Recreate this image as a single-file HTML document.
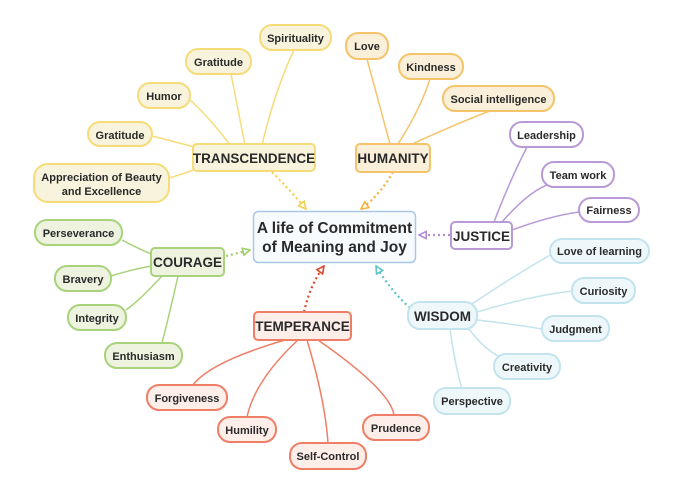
<!DOCTYPE html>
<html><head><meta charset="utf-8"><style>
html,body{margin:0;padding:0;background:#fff;}
svg{display:block;}
text{font-family:"Liberation Sans",sans-serif;font-weight:bold;fill:#2a2a2a;}
</style></head><body>
<svg width="688" height="479" viewBox="0 0 688 479" xmlns="http://www.w3.org/2000/svg">
<defs>
<marker id="ay" viewBox="0 0 10 10" refX="9" refY="5" markerWidth="9" markerHeight="9" markerUnits="userSpaceOnUse" orient="auto"><path d="M1,1 L9,5 L1,9 Z" fill="#fff" stroke="#f2cf4f" stroke-width="1.8"/></marker>
<marker id="ao" viewBox="0 0 10 10" refX="9" refY="5" markerWidth="9" markerHeight="9" markerUnits="userSpaceOnUse" orient="auto"><path d="M1,1 L9,5 L1,9 Z" fill="#fff" stroke="#f1b23d" stroke-width="1.8"/></marker>
<marker id="ap" viewBox="0 0 10 10" refX="9" refY="5" markerWidth="9" markerHeight="9" markerUnits="userSpaceOnUse" orient="auto"><path d="M1,1 L9,5 L1,9 Z" fill="#fff" stroke="#b08fd0" stroke-width="1.8"/></marker>
<marker id="ag" viewBox="0 0 10 10" refX="9" refY="5" markerWidth="9" markerHeight="9" markerUnits="userSpaceOnUse" orient="auto"><path d="M1,1 L9,5 L1,9 Z" fill="#fff" stroke="#9fcf6a" stroke-width="1.8"/></marker>
<marker id="ar" viewBox="0 0 10 10" refX="9" refY="5" markerWidth="9" markerHeight="9" markerUnits="userSpaceOnUse" orient="auto"><path d="M1,1 L9,5 L1,9 Z" fill="#fff" stroke="#d9482c" stroke-width="1.8"/></marker>
<marker id="ab" viewBox="0 0 10 10" refX="9" refY="5" markerWidth="9" markerHeight="9" markerUnits="userSpaceOnUse" orient="auto"><path d="M1,1 L9,5 L1,9 Z" fill="#fff" stroke="#5cc4c8" stroke-width="1.8"/></marker>
</defs>
<rect width="688" height="479" fill="#fff"/>

<g fill="none" stroke-width="1.5">
<g stroke="#f6dc78">
<path d="M262,145 Q275,90 294,50"/>
<path d="M245,145 Q238,110 231,74"/>
<path d="M230,145 Q210,118 190,100"/>
<path d="M205,150 Q180,143 152,136"/>
<path d="M196,169 Q180,175 169,178"/>
</g>
<g stroke="#f5c46a">
<path d="M390,144 Q378,100 367,59"/>
<path d="M398,144 Q420,110 430,79"/>
<path d="M412,144 Q470,118 490,111"/>
</g>
<g stroke="#b99ad6">
<path d="M494,222 Q510,180 527,147"/>
<path d="M502,222 Q530,190 550,184"/>
<path d="M512,230 Q550,216 579,212"/>
</g>
<g stroke="#a9d27c">
<path d="M151,254 Q135,247 122,240"/>
<path d="M151,266 Q130,270 111,276"/>
<path d="M162,276 Q140,300 126,310"/>
<path d="M178,276 Q168,320 162,343"/>
</g>
<g stroke="#ee7e66">
<path d="M285,340 Q210,362 193,385"/>
<path d="M298,340 Q255,380 247,417"/>
<path d="M307,340 Q325,400 328,443"/>
<path d="M318,340 Q390,390 394,415"/>
</g>
<g stroke="#c3e3ee">
<path d="M472,304 Q510,278 552,254"/>
<path d="M477,312 Q530,296 572,291"/>
<path d="M477,320 Q520,325 542,329"/>
<path d="M468,328 Q485,350 500,357"/>
<path d="M450,329 Q455,365 462,389"/>
</g>
</g>

<g fill="none" stroke-width="2.2" stroke-dasharray="2,3">
<path d="M272,172 Q290,190 306,209" stroke="#f2cf4f" marker-end="url(#ay)"/>
<path d="M393,172 Q380,195 361,209" stroke="#f1b23d" marker-end="url(#ao)"/>
<path d="M450,235 L419,235" stroke="#b08fd0" marker-end="url(#ap)"/>
<path d="M226,256 L250,250" stroke="#9fcf6a" marker-end="url(#ag)"/>
<path d="M304,312 Q310,285 324,266" stroke="#d9482c" marker-end="url(#ar)"/>
<path d="M410,308 Q390,290 376,266" stroke="#5cc4c8" marker-end="url(#ab)"/>
</g>

<rect x="253.5" y="211.5" width="162" height="51" rx="5" fill="#f8fbfe" stroke="#a9c7e6" stroke-width="1.5"/>
<text x="334.5" y="233" font-size="15.5" text-anchor="middle">A life of Commitment</text>
<text x="334.5" y="252" font-size="15.5" text-anchor="middle">of Meaning and Joy</text>

<g fill="#f7f3dc" stroke="#f6dc78" stroke-width="2">
<rect x="193" y="144" width="122" height="27" rx="4"/>
<rect x="260" y="25" width="71" height="25" rx="12"/>
<rect x="186" y="49" width="65" height="25" rx="12"/>
<rect x="138" y="83" width="52" height="25" rx="12"/>
<rect x="88" y="122" width="64" height="24" rx="12"/>
<rect x="34" y="164" width="135" height="38" rx="14"/>
</g>
<g font-size="11" text-anchor="middle">
<text x="254" y="163" font-size="13.5">TRANSCENDENCE</text>
<text x="295.5" y="42">Spirituality</text>
<text x="218.5" y="66">Gratitude</text>
<text x="164" y="100">Humor</text>
<text x="120" y="139">Gratitude</text>
<text x="101.5" y="181">Appreciation of Beauty</text>
<text x="101.5" y="195">and Excellence</text>
</g>

<g fill="#faefd9" stroke="#f5c46a" stroke-width="2">
<rect x="356" y="144" width="74" height="28" rx="4"/>
<rect x="346" y="33" width="42" height="26" rx="12"/>
<rect x="399" y="54" width="64" height="25" rx="12"/>
<rect x="443" y="86" width="111" height="25" rx="12"/>
</g>
<g font-size="11" text-anchor="middle">
<text x="393" y="163" font-size="13.5">HUMANITY</text>
<text x="367" y="50">Love</text>
<text x="431" y="71">Kindness</text>
<text x="498.5" y="103">Social intelligence</text>
</g>

<g fill="#fff" stroke="#b99ad6" stroke-width="2">
<rect x="451" y="222" width="61" height="27" rx="4"/>
<rect x="510" y="122" width="73" height="25" rx="12"/>
<rect x="542" y="162" width="72" height="25" rx="12"/>
<rect x="579" y="198" width="60" height="24" rx="12"/>
</g>
<g font-size="11" text-anchor="middle">
<text x="481.5" y="241" font-size="13.5">JUSTICE</text>
<text x="546.5" y="139">Leadership</text>
<text x="578" y="179">Team work</text>
<text x="609" y="214">Fairness</text>
</g>

<g fill="#eef3e0" stroke="#a9d27c" stroke-width="2">
<rect x="151" y="248" width="73" height="28" rx="4"/>
<rect x="35" y="220" width="87" height="25" rx="12"/>
<rect x="55" y="266" width="56" height="25" rx="12"/>
<rect x="68" y="305" width="58" height="25" rx="12"/>
<rect x="105" y="343" width="77" height="25" rx="12"/>
</g>
<g font-size="11" text-anchor="middle">
<text x="187.5" y="267" font-size="13.5">COURAGE</text>
<text x="78.5" y="237">Perseverance</text>
<text x="83" y="283">Bravery</text>
<text x="97" y="322">Integrity</text>
<text x="143.5" y="360">Enthusiasm</text>
</g>

<g fill="#fdeee9" stroke="#ee7e66" stroke-width="2">
<rect x="254" y="312" width="97" height="28" rx="4"/>
<rect x="147" y="385" width="80" height="25" rx="12"/>
<rect x="218" y="417" width="58" height="25" rx="12"/>
<rect x="290" y="443" width="76" height="26" rx="12"/>
<rect x="363" y="415" width="66" height="25" rx="12"/>
</g>
<g font-size="11" text-anchor="middle">
<text x="302.5" y="331" font-size="13.5">TEMPERANCE</text>
<text x="187" y="402">Forgiveness</text>
<text x="247" y="434">Humility</text>
<text x="328" y="460">Self-Control</text>
<text x="396" y="432">Prudence</text>
</g>

<g fill="#eef8fb" stroke="#c3e3ee" stroke-width="2">
<rect x="408" y="302" width="69" height="27" rx="12"/>
<rect x="550" y="239" width="99" height="24" rx="12"/>
<rect x="572" y="278" width="63" height="25" rx="12"/>
<rect x="542" y="316" width="67" height="25" rx="12"/>
<rect x="494" y="354" width="66" height="25" rx="12"/>
<rect x="434" y="388" width="76" height="26" rx="12"/>
</g>
<g font-size="11" text-anchor="middle">
<text x="442.5" y="321" font-size="13.5">WISDOM</text>
<text x="599.5" y="255">Love of learning</text>
<text x="603.5" y="295">Curiosity</text>
<text x="575.5" y="333">Judgment</text>
<text x="527" y="371">Creativity</text>
<text x="472" y="405">Perspective</text>
</g>
</svg>
</body></html>
